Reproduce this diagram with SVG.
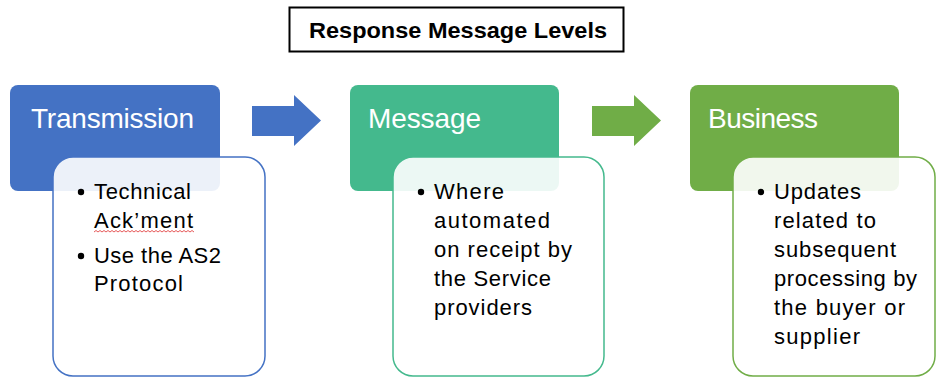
<svg xmlns="http://www.w3.org/2000/svg" width="936" height="379" viewBox="0 0 936 379">
<style>
.hdr{font-family:"Liberation Sans",Arial,sans-serif;font-size:28px;fill:#fff}
.txt{font-family:"Liberation Sans",Arial,sans-serif;font-size:22px;fill:#000}
.title{font-family:"Liberation Sans",Arial,sans-serif;font-size:22px;font-weight:bold;fill:#000}
.card{fill:#fff;fill-opacity:0.9;stroke-width:1.5}
</style>
<rect width="936" height="379" fill="#fff"/>
<g id="title">
<rect x="289.5" y="7.5" width="334" height="44" fill="#fff" stroke="#000" stroke-width="2"/>
<text class="title" x="309" y="37.5" textLength="298" lengthAdjust="spacingAndGlyphs">Response Message Levels</text>
</g>
<g id="transmission">
<rect x="10" y="85" width="210" height="106" rx="8" fill="#4472C4"/>
<text class="hdr" x="31" y="128" textLength="163">Transmission</text>
<rect class="card" x="53" y="157" width="212" height="219" rx="20" stroke="#4472C4"/>
<circle cx="81" cy="192" r="3.2" fill="#000"/>
<text class="txt" x="94" y="199" textLength="97">Technical</text>
<text class="txt" x="94" y="228" textLength="99">Ack’ment</text>
<path d="M94 232 l2 -1.5 l2 1.5 l2 -1.5 l2 1.5 l2 -1.5 l2 1.5 l2 -1.5 l2 1.5 l2 -1.5 l2 1.5 l2 -1.5 l2 1.5 l2 -1.5 l2 1.5 l2 -1.5 l2 1.5 l2 -1.5 l2 1.5 l2 -1.5 l2 1.5 l2 -1.5 l2 1.5 l2 -1.5 l2 1.5 l2 -1.5 l2 1.5 l2 -1.5 l2 1.5 l2 -1.5 l2 1.5 l2 -1.5 l2 1.5 l2 -1.5 l2 1.5 l2 -1.5 l2 1.5 l2 -1.5 l2 1.5 l2 -1.5 l2 1.5 l2 -1.5 l2 1.5 l2 -1.5 l2 1.5 l2 -1.5 l2 1.5 l2 -1.5 l2 1.5 l2 -1.5 l2 1.5" fill="none" stroke="#E03030" stroke-width="0.8"/>
<circle cx="81" cy="256" r="3.2" fill="#000"/>
<text class="txt" x="94" y="263" textLength="127">Use the AS2</text>
<text class="txt" x="94" y="291" textLength="89">Protocol</text>
</g>
<g id="message">
<rect x="350" y="85" width="209" height="106" rx="8" fill="#44B98D"/>
<text class="hdr" x="368" y="128" textLength="113">Message</text>
<rect class="card" x="393" y="157" width="211" height="219" rx="20" stroke="#44B98D"/>
<circle cx="421" cy="192" r="3.2" fill="#000"/>
<text class="txt" x="434" y="199" textLength="70">Where</text>
<text class="txt" x="434" y="228" textLength="116">automated</text>
<text class="txt" x="434" y="257" textLength="138">on receipt by</text>
<text class="txt" x="434" y="286" textLength="117">the Service</text>
<text class="txt" x="434" y="315" textLength="98">providers</text>
</g>
<g id="business">
<rect x="690" y="85" width="209" height="106" rx="8" fill="#70AD47"/>
<text class="hdr" x="708" y="128" textLength="110">Business</text>
<rect class="card" x="733" y="157" width="202" height="219" rx="20" stroke="#70AD47"/>
<circle cx="761" cy="192" r="3.2" fill="#000"/>
<text class="txt" x="774" y="199" textLength="87">Updates</text>
<text class="txt" x="774" y="228" textLength="102">related to</text>
<text class="txt" x="774" y="257" textLength="122">subsequent</text>
<text class="txt" x="774" y="286" textLength="143">processing by</text>
<text class="txt" x="774" y="315" textLength="131">the buyer or</text>
<text class="txt" x="774" y="344" textLength="86">supplier</text>
</g>
<g id="connectors">
<polygon points="252,106 294,106 294,95 321,120.5 294,146 294,136 252,136" fill="#4472C4"/>
<polygon points="592,106 634,106 634,95 661,120.5 634,146 634,136 592,136" fill="#70AD47"/>
</g>
</svg>
